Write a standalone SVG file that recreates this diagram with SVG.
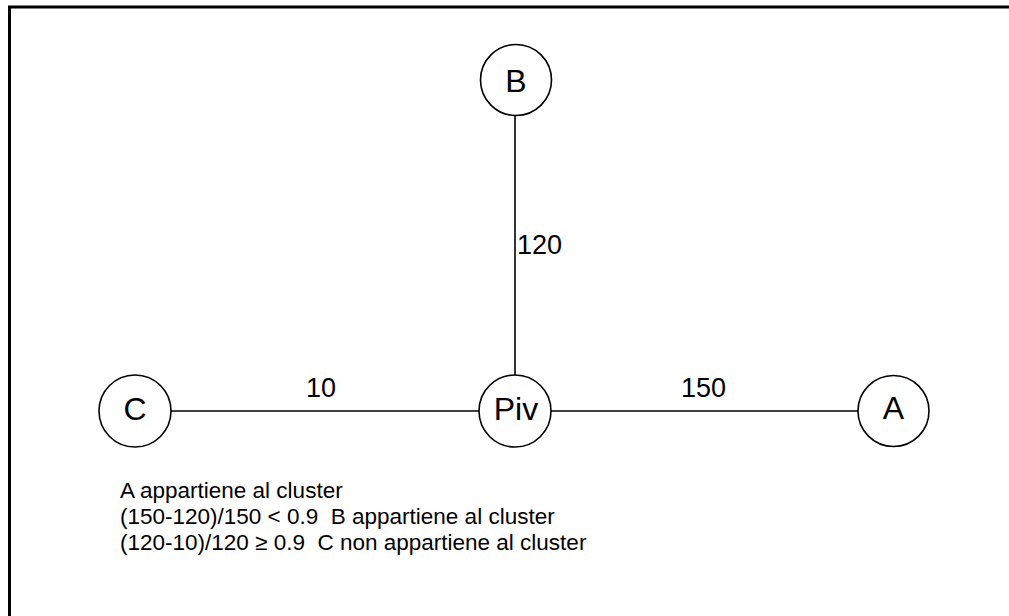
<svg xmlns="http://www.w3.org/2000/svg" width="1009" height="616" viewBox="0 0 1009 616">
  <style>
    .node circle { fill: #ffffff; stroke: #000000; stroke-width: 1.6; }
    .node text { font-family: "Liberation Sans", Arial, sans-serif; font-size: 32px; text-anchor: middle; fill: #000000; }
    .edge { stroke: #000000; stroke-width: 1.6; fill: none; }
    .lbl { font-family: "Liberation Sans", Arial, sans-serif; font-size: 27px; fill: #000000; }
    .note { font-family: "Liberation Sans", Arial, sans-serif; font-size: 22.5px; fill: #000000; }
  </style>
  <rect width="1009" height="616" fill="#ffffff"/>
  <!-- open frame: top and left rules -->
  <path d="M9.5 616 V7 H1009" fill="none" stroke="#000000" stroke-width="3"/>

  <g id="connectors">
    <line class="edge" x1="515" y1="116" x2="515" y2="375"/>
    <line class="edge" x1="171" y1="411" x2="479" y2="411"/>
    <line class="edge" x1="551" y1="411" x2="858" y2="411"/>
    <text class="lbl" x="517" y="254">120</text>
    <text class="lbl" x="306" y="397">10</text>
    <text class="lbl" x="681" y="397">150</text>
  </g>

  <g id="node-B" class="node">
    <circle cx="516" cy="80" r="35.5"/>
    <text x="516" y="92">B</text>
  </g>
  <g id="node-Piv" class="node">
    <circle cx="515" cy="411" r="36"/>
    <text x="516" y="420">Piv</text>
  </g>
  <g id="node-C" class="node">
    <circle cx="135" cy="411" r="36"/>
    <text x="135" y="420">C</text>
  </g>
  <g id="node-A" class="node">
    <circle cx="893.5" cy="411" r="35.5"/>
    <text x="893.5" y="419">A</text>
  </g>

  <g id="notes">
    <text class="note" x="120" y="498">A appartiene al cluster</text>
    <text class="note" x="120" y="524" xml:space="preserve">(150-120)/150 &lt; 0.9  B appartiene al cluster</text>
    <text class="note" x="120" y="550" xml:space="preserve">(120-10)/120 ≥ 0.9  C non appartiene al cluster</text>
  </g>
</svg>
